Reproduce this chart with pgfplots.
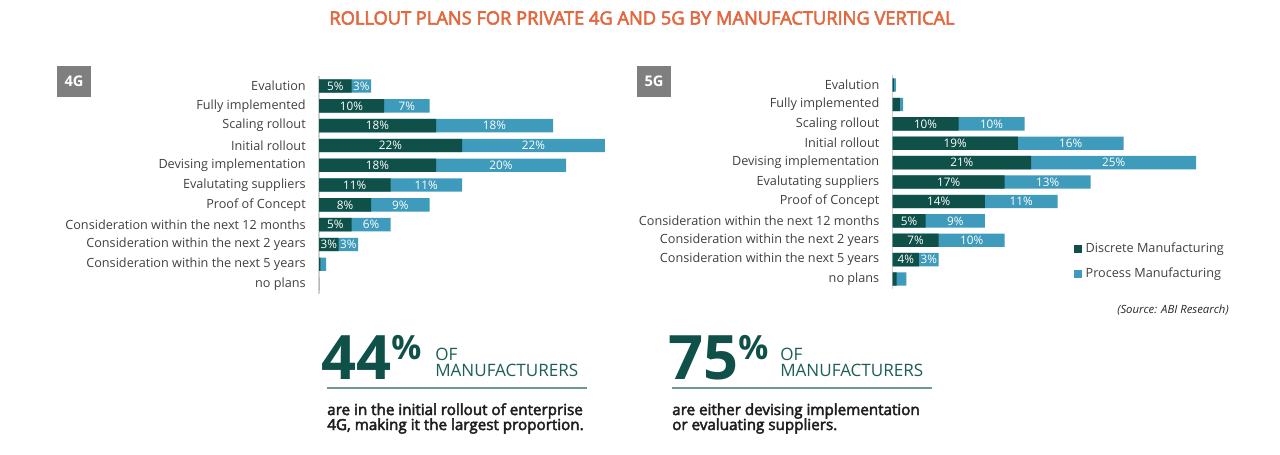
\documentclass[border=0pt]{standalone}
\usepackage{pgfplots}
\pgfplotsset{compat=1.18}
\usepackage{pgfplotstable}
\usepackage{fontspec}
\setmainfont{Open Sans}
\newfontfamily\semib[FakeBold=3]{Open Sans}
\definecolor{dark}{HTML}{0F5049}
\definecolor{light}{HTML}{3E9BBB}
\definecolor{ttl}{HTML}{E2683F}
\definecolor{lbl}{HTML}{404040}
\definecolor{rulec}{HTML}{6E9A93}
\definecolor{boxg}{HTML}{7F7F7F}
\definecolor{ofc}{HTML}{1D5E56}

\pgfplotstableread{
i d p
0 5 3
1 10 7
2 18 18
3 22 22
4 18 20
5 11 11
6 8 9
7 5 6
8 3 3
9 0.2 0.9
10 0 0
}\fourg
\pgfplotstableread{
i d p
0 0.2 0.3
1 1.1 0.5
2 10 10
3 19 16
4 21 25
5 17 13
6 14 11
7 5 9
8 7 10
9 4 3
10 0.6 1.5
}\fiveg

\pgfplotsset{
  chart/.style={
    scale only axis, xmin=0, xmax=50, ymin=-0.5, ymax=10.5, y dir=reverse,
    hide x axis, axis y line*=left,
    y axis line style={draw=black!18, line width=0.8pt, -},
    ytick={0,...,10},
    yticklabels={Evalution, Fully implemented, Scaling rollout, Initial rollout,
      Devising implementation, Evalutating suppliers, Proof of Concept,
      Consideration within the next 12 months, Consideration within the next 2 years,
      Consideration within the next 5 years, no plans},
    major tick length=0pt,
    yticklabel style={font=\fontsize{9.5}{11}\selectfont, text=lbl, inner sep=0pt, xshift=-9.75pt},
    bar width=10pt, bar shift=0pt, clip=false,
  },
  lab/.style={draw=none, mark=none, point meta=explicit,
    nodes near coords={\pgfmathprintnumber[assume math mode=true]{\pgfplotspointmeta}\%},
    nodes near coords style={anchor=center, text=white, inner sep=0pt,
      font=\fontsize{8.8}{9}\selectfont}},
}

\begin{document}
\begin{tikzpicture}
\path (0pt,0pt) rectangle (960pt,-340.5pt);

% 4G chart
\begin{axis}[chart, width=243.75pt, height=163.35pt,
  at={(239.25pt,-57.1pt)}, anchor=north west]
\addplot[xbar, fill=light, draw=none] table[x expr=\thisrow{d}+\thisrow{p}, y=i]{\fourg};
\addplot[xbar, fill=dark, draw=none] table[x=d, y=i]{\fourg};
\addplot[lab, skip coords between index={9}{11}] table[x expr=\thisrow{d}/2, y=i, meta=d]{\fourg};
\addplot[lab, skip coords between index={9}{11}] table[x expr=\thisrow{d}+\thisrow{p}/2, y=i, meta=p]{\fourg};
\end{axis}

% 5G chart
\begin{axis}[chart, width=247.5pt, height=160.05pt,
  at={(669.4pt,-56.5pt)}, anchor=north west,
  legend style={at={(0.548,0.222)}, anchor=north west, draw=none, fill=none,
    font=\fontsize{9.5}{11}\selectfont, text=lbl, row sep=8pt, inner sep=0pt,
    nodes={inner sep=1pt}},
  legend cell align=left,
  legend image code/.code={\fill[#1, draw=none] (1pt,-3pt) rectangle (7pt,3pt); \path (9pt,0pt);}]
\addplot[xbar, fill=light, draw=none, forget plot] table[x expr=\thisrow{d}+\thisrow{p}, y=i]{\fiveg};
\addplot[xbar, fill=dark, draw=none, forget plot] table[x=d, y=i]{\fiveg};
\addplot[lab, forget plot, skip coords between index={0}{2}, skip coords between index={10}{11}] table[x expr=\thisrow{d}/2, y=i, meta=d]{\fiveg};
\addplot[lab, forget plot, skip coords between index={0}{2}, skip coords between index={10}{11}] table[x expr=\thisrow{d}+\thisrow{p}/2, y=i, meta=p]{\fiveg};
\addlegendimage{fill=dark, draw=none}
\addlegendentry{Discrete Manufacturing}
\addlegendimage{fill=light, draw=none}
\addlegendentry{Process Manufacturing}
\end{axis}

\begin{scope}[x=0.75pt, y=-0.75pt]
\node[text=ttl, font=\semib\fontsize{13.7}{15}\selectfont] at (642,18)
  {ROLLOUT PLANS FOR PRIVATE 4G AND 5G BY MANUFACTURING VERTICAL};
\fill[boxg] (57,66) rectangle (91,97);
\node[text=white, font=\bfseries\fontsize{11}{12}\selectfont] at (74,81.5) {4G};
\fill[boxg] (637,66) rectangle (671,97);
\node[text=white, font=\bfseries\fontsize{11}{12}\selectfont] at (654,81.5) {5G};
\node[anchor=east, inner sep=0pt, text=black!85, font=\itshape\fontsize{8.5}{10}\selectfont] at (1229,310) {(Source: ABI Research)};

% left highlight
\node[anchor=base west, inner sep=0pt, text=dark, font=\bfseries\fontsize{46}{46}\selectfont] at (321,379)
  {44\raisebox{14.6pt}{\fontsize{25}{25}\selectfont\%}};
\node[anchor=base west, inner sep=0pt, text=ofc, font=\fontsize{12.8}{13}\selectfont] at (435,360) {OF};
\node[anchor=base west, inner sep=0pt, text=ofc, font=\fontsize{12.8}{13}\selectfont] at (435,376) {MANUFACTURERS};
\draw[rulec, line width=1.5pt] (327,388) -- (587,388);
\node[anchor=base west, inner sep=0pt, text=black!88, font=\semib\fontsize{11.4}{12}\selectfont] at (327,415) {are in the initial rollout of enterprise};
\node[anchor=base west, inner sep=0pt, text=black!88, font=\semib\fontsize{11.4}{12}\selectfont] at (327,430) {4G, making it the largest proportion.};

% right highlight
\node[anchor=base west, inner sep=0pt, text=dark, font=\bfseries\fontsize{46}{46}\selectfont] at (668,379)
  {75\raisebox{14.6pt}{\fontsize{25}{25}\selectfont\%}};
\node[anchor=base west, inner sep=0pt, text=ofc, font=\fontsize{12.8}{13}\selectfont] at (780,360) {OF};
\node[anchor=base west, inner sep=0pt, text=ofc, font=\fontsize{12.8}{13}\selectfont] at (780,376) {MANUFACTURERS};
\draw[rulec, line width=1.5pt] (672,388) -- (932,388);
\node[anchor=base west, inner sep=0pt, text=black!88, font=\semib\fontsize{11.4}{12}\selectfont] at (672,415) {are either devising implementation};
\node[anchor=base west, inner sep=0pt, text=black!88, font=\semib\fontsize{11.4}{12}\selectfont] at (672,430) {or evaluating suppliers.};
\end{scope}
\end{tikzpicture}
\end{document}
